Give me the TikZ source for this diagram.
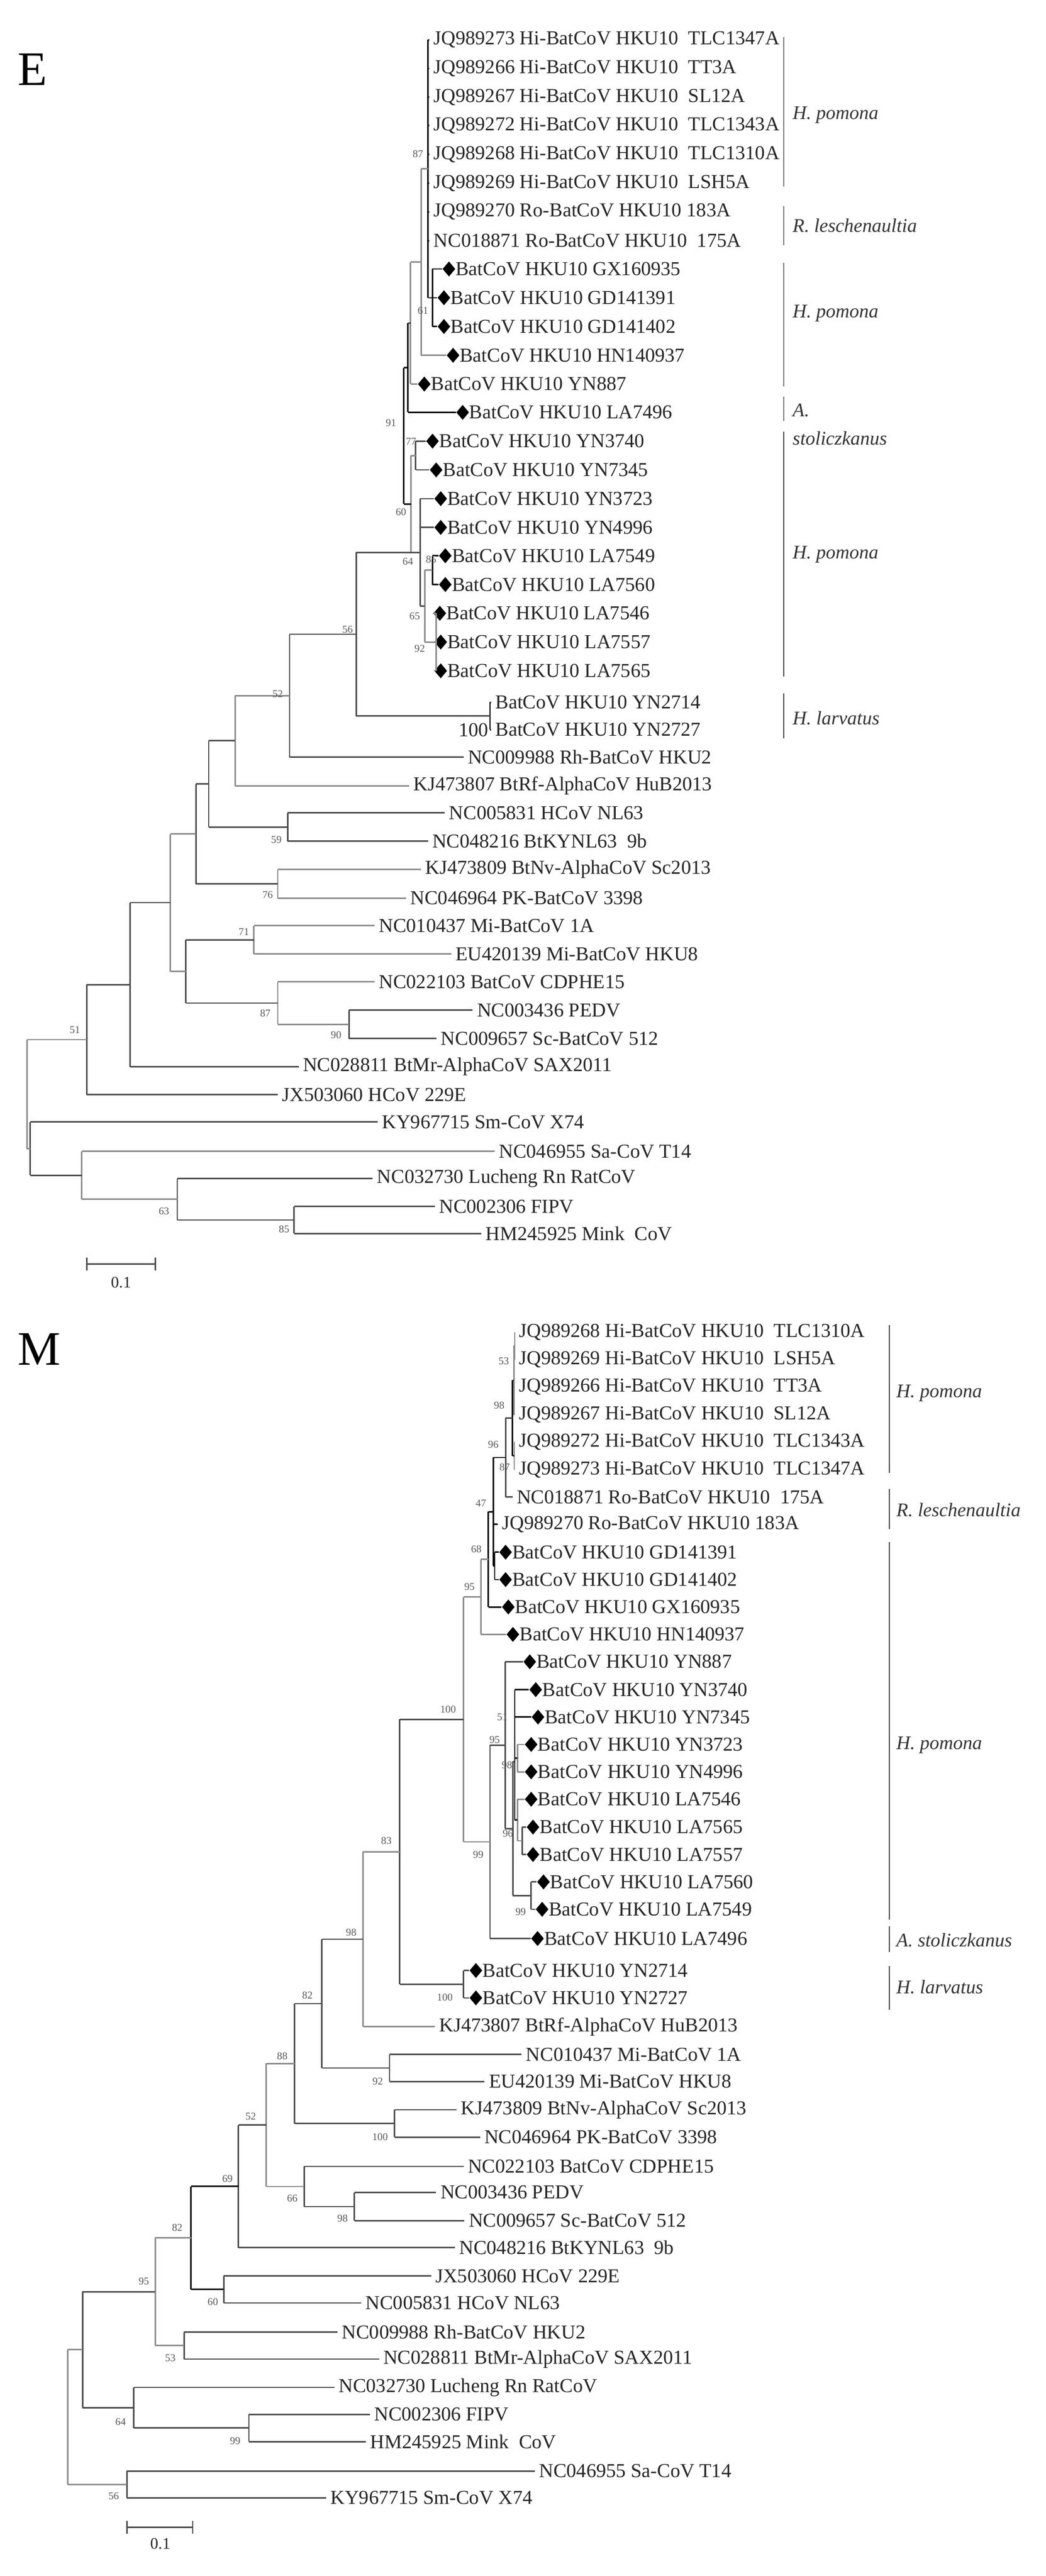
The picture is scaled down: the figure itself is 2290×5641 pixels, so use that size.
\documentclass[tikz,border=0pt]{standalone}
\usepackage{fontspec}
\setmainfont{Liberation Serif}
\usetikzlibrary{calc,shapes.geometric}
\tikzset{
 lbl/.style={anchor=west,inner sep=0pt,font=\fontsize{12.3}{14}\selectfont,text=black!85},
 bsl/.style={inner sep=0pt,font=\fontsize{6.5}{7}\selectfont,text=black!65},
 dia/.style={diamond,fill=black,inner sep=0pt,minimum width=8pt,minimum height=9.5pt},
 bk/.style={black,line width=0.9pt},
 dg/.style={black!70,line width=0.9pt},
 lg/.style={black!45,line width=0.9pt},
 brk/.style={black!55,line width=0.7pt},
 sp/.style={anchor=west,inner sep=0pt,font=\fontsize{12}{14}\selectfont\itshape,text=black!80},
 pl/.style={anchor=west,inner sep=0pt,font=\fontsize{30}{30}\selectfont}
}
\newcommand\lf[4]{\coordinate (#1) at (#2,#3); \node[lbl] (#1t) at ({#2+9},#3) {#4};}
\newcommand\dl[4]{\coordinate (#1) at ({#2-15},#3); \node[dia] (#1d) at (#2,#3) {}; \node[lbl] (#1t) at ({#2+14},#3) {BatCoV HKU10 #4};}
\newcommand\cl[6]{%
 \path let \p1=(#3), \p2=(#4) in coordinate (#1) at ({#2*0.01cm},{0.5*\y1+0.5*\y2});
 \draw[#5] (#1 |- #3) -- (#1 |- #4);
 \foreach \c in {#6} {\draw[#5] (#1 |- \c) -- (\c);}}
\newcounter{bsc}
\newcommand\bs[3]{\stepcounter{bsc}\node[bsl] (bs\arabic{bsc}) at (#1,#2) {#3};}
\newcommand\brk[5]{\draw[brk] (#1,#2) coordinate (#5a) -- (#1,#3) coordinate (#5b);}
\begin{document}
\begin{tikzpicture}[x=0.01cm,y=-0.01cm]
\useasboundingbox (0,0) rectangle (2290,5641);
\fill[white] (0,0) rectangle (2290,5641);
% ================= E =================
\node[pl] (E) at (38,152) {E};
\lf{e0}{940}{87}{JQ989273 Hi-BatCoV HKU10\ \ TLC1347A}
\lf{e1}{940}{150}{JQ989266 Hi-BatCoV HKU10\ \ TT3A}
\lf{e2}{940}{213}{JQ989267 Hi-BatCoV HKU10\ \ SL12A}
\lf{e3}{940}{275}{JQ989272 Hi-BatCoV HKU10\ \ TLC1343A}
\lf{e4}{940}{338}{JQ989268 Hi-BatCoV HKU10\ \ TLC1310A}
\lf{e5}{940}{401}{JQ989269 Hi-BatCoV HKU10\ \ LSH5A}
\lf{e6}{940}{464}{JQ989270 Ro-BatCoV HKU10 183A}
\lf{e7}{940}{527}{NC018871 Ro-BatCoV HKU10\ \ 175A}
\dl{e8}{983}{589}{GX160935}
\dl{e9}{972}{652}{GD141391}
\dl{e10}{972}{715}{GD141402}
\dl{e11}{992}{778}{HN140937}
\dl{e12}{929}{841}{YN887}
\dl{e13}{1013}{903}{LA7496}
\dl{e14}{947}{966}{YN3740}
\dl{e15}{955}{1029}{YN7345}
\dl{e16}{965}{1092}{YN3723}
\dl{e17}{965}{1155}{YN4996}
\dl{e18}{975}{1217}{LA7549}
\dl{e19}{975}{1280}{LA7560}
\dl{e20}{963}{1343}{LA7546}
\dl{e21}{965}{1406}{LA7557}
\dl{e22}{965}{1469}{LA7565}
\lf{e23}{1075}{1538}{BatCoV HKU10 YN2714}
\lf{e24}{1075}{1598}{BatCoV HKU10 YN2727}
\lf{e25}{1015}{1658}{NC009988 Rh-BatCoV HKU2}
\lf{e26}{896}{1721}{KJ473807 BtRf-AlphaCoV HuB2013}
\lf{e27}{974}{1780}{NC005831 HCoV NL63}
\lf{e28}{937}{1842}{NC048216 BtKYNL63\ \ 9b}
\lf{e29}{922}{1904}{KJ473809 BtNv-AlphaCoV Sc2013}
\lf{e30}{889}{1967}{NC046964 PK-BatCoV 3398}
\lf{e31}{820}{2027}{NC010437 Mi-BatCoV 1A}
\lf{e32}{988}{2089}{EU420139 Mi-BatCoV HKU8}
\lf{e33}{820}{2150}{NC022103 BatCoV CDPHE15}
\lf{e34}{1035}{2212}{NC003436 PEDV}
\lf{e35}{956}{2274}{NC009657 Sc-BatCoV 512}
\lf{e36}{654}{2336}{NC028811 BtMr-AlphaCoV SAX2011}
\lf{e37}{608}{2397}{JX503060 HCoV 229E}
\lf{e38}{827}{2457}{KY967715 Sm-CoV X74}
\lf{e39}{1083}{2521}{NC046955 Sa-CoV T14}
\lf{e40}{816}{2581}{NC032730 Lucheng Rn RatCoV}
\lf{e41}{952}{2642}{NC002306 FIPV}
\lf{e42}{1054}{2701}{HM245925 Mink\ \ CoV}
\cl{e61c}{947}{e8}{e10}{bk}{e8,e9,e10}
\cl{eA}{937}{e0}{e61c}{bk}{e0,e1,e2,e3,e4,e5,e6,e7,e61c}
\cl{e87}{922}{eA}{e11}{lg}{eA,e11}
\cl{eP}{899}{e87}{e12}{lg}{e87,e12}
\cl{eQ}{893}{eP}{e13}{bk}{eP,e13}
\cl{e77}{910}{e14}{e15}{dg}{e14,e15}
\cl{eT}{947}{e18}{e19}{bk}{e18,e19}
\cl{eV}{955}{e20}{e22}{lg}{e20,e21,e22}
\cl{eU}{930}{eT}{eV}{lg}{eT,eV}
\cl{eX}{920}{e16}{eU}{dg}{e16,e17,eU}
\cl{eR}{900}{e77}{eX}{lg}{e77,eX}
\cl{e91}{884}{eQ}{eR}{bk}{eQ,eR}
\cl{eY}{1073}{e23}{e24}{bk}{e23,e24}
\cl{e56}{780}{eX}{eY}{dg}{eX,eY}
\cl{e52}{634}{e56}{e25}{dg}{e56,e25}
\cl{eN1}{515}{e52}{e26}{lg}{e52,e26}
\cl{e59}{630}{e27}{e28}{dg}{e27,e28}
\cl{eN2}{457}{eN1}{e59}{dg}{eN1,e59}
\cl{e76}{608}{e29}{e30}{lg}{e29,e30}
\cl{eN3}{429}{eN2}{e76}{dg}{eN2,e76}
\cl{e71}{556}{e31}{e32}{lg}{e31,e32}
\cl{e90}{764}{e34}{e35}{dg}{e34,e35}
\cl{e87b}{608}{e33}{e90}{lg}{e33,e90}
\cl{eN4}{407}{e71}{e87b}{dg}{e71,e87b}
\cl{eN5}{373}{eN3}{eN4}{lg}{eN3,eN4}
\cl{eN6}{285}{eN5}{e36}{dg}{eN5,e36}
\cl{e51}{190}{eN6}{e37}{dg}{eN6,e37}
\cl{e85}{644}{e41}{e42}{dg}{e41,e42}
\cl{e63}{388}{e40}{e85}{dg}{e40,e85}
\cl{eL}{179}{e39}{e63}{lg}{e39,e63}
\cl{eK}{66}{e38}{eL}{dg}{e38,eL}
\cl{eRoot}{59}{e51}{eK}{lg}{e51,eK}
\bs{915}{337}{87}\bs{926}{680}{61}\bs{856}{926}{91}\bs{900}{967}{77}
\bs{878}{1121}{60}\bs{893}{1230}{64}\bs{944}{1225}{85}\bs{908}{1349}{65}
\bs{919}{1420}{92}\bs{761}{1378}{56}\bs{608}{1519}{52}
\node[lbl,anchor=east] (e100) at (1070,1598) {100};
\bs{605}{1839}{59}\bs{586}{1960}{76}\bs{534}{2041}{71}\bs{581}{2219}{87}
\bs{736}{2266}{90}\bs{164}{2255}{51}\bs{359}{2652}{63}\bs{622}{2692}{85}
\brk{1716}{81}{408}{x}{bE1}\node[sp] (sE1) at (1735,252) {H. pomona};
\brk{1716}{451}{537}{x}{bE2}\node[sp] (sE2) at (1735,494) {R. leschenaultia};
\brk{1716}{575}{846}{x}{bE3}\node[sp] (sE3) at (1735,686) {H. pomona};
\brk{1716}{869}{922}{x}{bE4}\node[sp] (sE4) at (1735,898) {A.};
\node[sp] (sE4b) at (1735,960) {stoliczkanus};
\draw[black!75,line width=0.7pt] (1716,945) -- (1716,1481);
\node[sp] (sE5) at (1735,1214) {H. pomona};
\draw[black!75,line width=0.7pt] (1716,1519) -- (1716,1617);
\node[sp] (sE6) at (1735,1573) {H. larvatus};
\coordinate (sbE1) at (190,2768); \coordinate (sbE2) at (340,2768);
\draw[black!70,line width=0.9pt] (sbE1) -- (sbE2);
\draw[black!70,line width=0.9pt] ([yshift=-4pt]sbE1) -- ([yshift=4pt]sbE1);
\draw[black!70,line width=0.9pt] ([yshift=-4pt]sbE2) -- ([yshift=4pt]sbE2);
\node[lbl,anchor=center,font=\fontsize{10}{12}\selectfont] (sbEt) at (265,2808) {0.1};
% ================= M =================
\node[pl] (M) at (38,2955) {M};
\lf{m0}{1127}{2917}{JQ989268 Hi-BatCoV HKU10\ \ TLC1310A}
\lf{m1}{1127}{2977}{JQ989269 Hi-BatCoV HKU10\ \ LSH5A}
\lf{m2}{1127}{3037}{JQ989266 Hi-BatCoV HKU10\ \ TT3A}
\lf{m3}{1127}{3098}{JQ989267 Hi-BatCoV HKU10\ \ SL12A}
\lf{m4}{1127}{3158}{JQ989272 Hi-BatCoV HKU10\ \ TLC1343A}
\lf{m5}{1127}{3218}{JQ989273 Hi-BatCoV HKU10\ \ TLC1347A}
\lf{m6}{1122}{3278}{NC018871 Ro-BatCoV HKU10\ \ 175A}
\lf{m7}{1090}{3338}{JQ989270 Ro-BatCoV HKU10 183A}
\dl{m8}{1107}{3399}{GD141391}
\dl{m9}{1107}{3459}{GD141402}
\dl{m10}{1113}{3519}{GX160935}
\dl{m11}{1123}{3579}{HN140937}
\dl{m12}{1160}{3639}{YN887}
\dl{m13}{1173}{3700}{YN3740}
\dl{m14}{1178}{3760}{YN7345}
\dl{m15}{1163}{3820}{YN3723}
\dl{m16}{1163}{3880}{YN4996}
\dl{m17}{1163}{3940}{LA7546}
\dl{m18}{1167}{4001}{LA7565}
\dl{m19}{1167}{4061}{LA7557}
\dl{m20}{1190}{4121}{LA7560}
\dl{m21}{1187}{4181}{LA7549}
\dl{m22}{1177}{4245}{LA7496}
\dl{m23}{1042}{4315}{YN2714}
\dl{m24}{1042}{4375}{YN2727}
\lf{m25}{952}{4438}{KJ473807 BtRf-AlphaCoV HuB2013}
\lf{m26}{1142}{4499}{NC010437 Mi-BatCoV 1A}
\lf{m27}{1061}{4558}{EU420139 Mi-BatCoV HKU8}
\lf{m28}{1000}{4620}{KJ473809 BtNv-AlphaCoV Sc2013}
\lf{m29}{1051}{4680}{NC046964 PK-BatCoV 3398}
\lf{m30}{1015}{4744}{NC022103 BatCoV CDPHE15}
\lf{m31}{955}{4801}{NC003436 PEDV}
\lf{m32}{1017}{4863}{NC009657 Sc-BatCoV 512}
\lf{m33}{996}{4922}{NC048216 BtKYNL63\ \ 9b}
\lf{m34}{944}{4984}{JX503060 HCoV 229E}
\lf{m35}{791}{5043}{NC005831 HCoV NL63}
\lf{m36}{739}{5107}{NC009988 Rh-BatCoV HKU2}
\lf{m37}{830}{5166}{NC028811 BtMr-AlphaCoV SAX2011}
\lf{m38}{732}{5228}{NC032730 Lucheng Rn RatCoV}
\lf{m39}{810}{5287}{NC002306 FIPV}
\lf{m40}{801}{5347}{HM245925 Mink\ \ CoV}
\lf{m41}{1171}{5411}{NC046955 Sa-CoV T14}
\lf{m42}{714}{5470}{KY967715 Sm-CoV X74}
\cl{m53}{1127}{m0}{m1}{lg}{m0,m1}
\cl{mA}{1125}{m53}{m3}{lg}{m53,m2,m3}
\cl{mB}{1126}{m4}{m5}{lg}{m4,m5}
\cl{mTop}{1122}{mA}{mB}{bk}{mA,mB}
\cl{m96}{1107}{mTop}{m6}{dg}{mTop,m6}
\cl{mGD}{1083}{m8}{m9}{bk}{m8,m9}
\cl{mF}{1080}{m96}{mGD}{bk}{m96,m7,mGD}
\cl{mG}{1069}{mF}{m10}{bk}{mF,m10}
\cl{m95}{1053}{mG}{m11}{lg}{mG,m11}
\cl{m51}{1127}{m13}{m14}{bk}{m13,m14}
\cl{m9x}{1133}{m15}{m16}{lg}{m15,m16}
\cl{mLL}{1143}{m18}{m19}{dg}{m18,m19}
\cl{mLA}{1133}{m17}{mLL}{lg}{m17,mLL}
\cl{mH}{1127}{m51}{mLA}{bk}{m51,m9x,mLA}
\cl{m99}{1163}{m20}{m21}{dg}{m20,m21}
\cl{mI}{1123}{mH}{m99}{dg}{mH,m99}
\cl{mJ}{1106}{m12}{mI}{dg}{m12,mI}
\cl{mL}{1073}{mJ}{m22}{dg}{mJ,m22}
\cl{m100}{1015}{m95}{mL}{lg}{m95,mL}
\cl{mYN}{1015}{m23}{m24}{dg}{m23,m24}
\cl{m83}{875}{m100}{mYN}{dg}{m100,mYN}
\cl{m98}{795}{m83}{m25}{lg}{m83,m25}
\cl{m92}{853}{m26}{m27}{dg}{m26,m27}
\cl{m82}{705}{m98}{m92}{dg}{m98,m92}
\cl{m100b}{864}{m28}{m29}{dg}{m28,m29}
\cl{m88}{645}{m82}{m100b}{dg}{m82,m100b}
\cl{m98b}{776}{m31}{m32}{dg}{m31,m32}
\cl{m66}{666}{m30}{m98b}{dg}{m30,m98b}
\cl{m52}{583}{m88}{m66}{lg}{m88,m66}
\cl{m69}{522}{m52}{m33}{dg}{m52,m33}
\cl{m60}{490}{m34}{m35}{dg}{m34,m35}
\cl{m82b}{418}{m69}{m60}{bk}{m69,m60}
\cl{m53b}{403}{m36}{m37}{dg}{m36,m37}
\cl{m95b}{340}{m82b}{m53b}{lg}{m82b,m53b}
\cl{m99c}{545}{m39}{m40}{dg}{m39,m40}
\cl{m64}{293}{m38}{m99c}{dg}{m38,m99c}
\cl{m181}{181}{m95b}{m64}{dg}{m95b,m64}
\cl{m56}{278}{m41}{m42}{dg}{m41,m42}
\cl{mRoot}{148}{m181}{m56}{lg}{m181,m56}
\bs{1103}{2980}{53}\bs{1093}{3077}{98}\bs{1080}{3163}{96}\bs{1105}{3213}{87}
\bs{1053}{3292}{47}\bs{1043}{3392}{68}\bs{1028}{3475}{95}\bs{981}{3743}{100}
\bs{1100}{3760}{51}\bs{1083}{3810}{95}\bs{1110}{3865}{98}\bs{1112}{4015}{96}
\bs{1047}{4061}{99}\bs{1140}{4187}{99}
\bs{846}{4031}{83}\bs{769}{4232}{98}\bs{974}{4374}{100}\bs{673}{4369}{82}
\bs{827}{4558}{92}\bs{618}{4502}{88}\bs{832}{4680}{100}\bs{549}{4634}{52}
\bs{640}{4814}{66}\bs{750}{4858}{98}\bs{498}{4771}{69}\bs{466}{5041}{60}
\bs{388}{4878}{82}\bs{315}{4995}{95}\bs{373}{5164}{53}\bs{264}{5304}{64}
\bs{515}{5345}{99}\bs{249}{5466}{56}
\draw[black!75,line width=0.7pt] (1947,2902) -- (1947,3225);\node[sp] (sM1) at (1962,3051) {H. pomona};
\draw[black!75,line width=0.7pt] (1947,3260) -- (1947,3349);\node[sp] (sM2) at (1962,3306) {R. leschenaultia};
\draw[black!75,line width=0.7pt] (1947,3377) -- (1947,4204);\node[sp] (sM3) at (1962,3821) {H. pomona};
\draw[black!75,line width=0.7pt] (1947,4218) -- (1947,4275);\node[sp] (sM4) at (1962,4248) {A. stoliczkanus};
\draw[black!75,line width=0.7pt] (1947,4305) -- (1947,4401);\node[sp] (sM5) at (1962,4351) {H. larvatus};
\coordinate (sbM1) at (278,5534); \coordinate (sbM2) at (422,5534);
\draw[black!70,line width=0.9pt] (sbM1) -- (sbM2);
\draw[black!70,line width=0.9pt] ([yshift=-4pt]sbM1) -- ([yshift=4pt]sbM1);
\draw[black!70,line width=0.9pt] ([yshift=-4pt]sbM2) -- ([yshift=4pt]sbM2);
\node[lbl,anchor=center,font=\fontsize{10}{12}\selectfont] (sbMt) at (351,5570) {0.1};
\end{tikzpicture}
\end{document}
